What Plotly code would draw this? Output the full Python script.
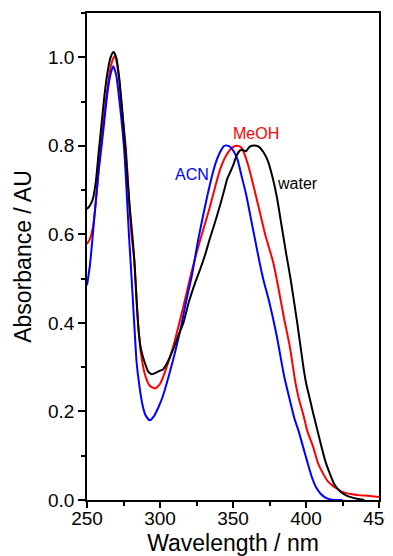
import plotly.graph_objects as go

# ---------------- data ----------------
wl_acn = [250, 252, 254, 256, 258, 260, 262, 264, 266, 268, 270, 272.6, 275.5, 278.8,
          280.6, 282.5, 284, 286, 288, 290, 293, 296, 299, 302, 306, 310, 314, 318,
          322, 326, 330, 334, 338, 341, 344, 347, 350, 353, 356, 359, 362, 365, 368,
          371, 375, 380, 385, 389, 392, 395, 398, 401, 404, 407, 410, 413, 416, 420, 425]
abs_acn = [0.485, 0.53, 0.60, 0.675, 0.745, 0.80, 0.86, 0.92, 0.96, 0.98, 0.96, 0.89, 0.79,
           0.595, 0.498, 0.39, 0.31, 0.255, 0.215, 0.192, 0.18, 0.19, 0.21, 0.235, 0.28,
           0.33, 0.385, 0.45, 0.51, 0.585, 0.65, 0.71, 0.76, 0.785, 0.80, 0.80, 0.79,
           0.77, 0.73, 0.69, 0.64, 0.59, 0.54, 0.495, 0.445, 0.37, 0.28, 0.225, 0.185,
           0.155, 0.12, 0.085, 0.052, 0.028, 0.014, 0.006, 0.002, 0.0, 0.0]

wl_meoh = [250, 252, 254, 256, 258, 260, 262, 264, 266, 268, 269, 270, 272, 274, 276.7,
           279, 280.5, 282.4, 284.5, 287, 290, 293, 296.5, 300, 304, 309, 314, 318, 322,
           326, 330, 334, 338, 341, 344, 347, 350, 353, 356, 358, 360.5, 364, 368.5, 372,
           377.6, 380, 385, 389, 392.5, 395, 398, 401, 405, 408, 411.8, 415, 418, 421,
           425, 428, 432, 436, 440, 444, 447, 450]
abs_meoh = [0.578, 0.59, 0.615, 0.67, 0.745, 0.815, 0.875, 0.93, 0.975, 0.998, 1.003, 0.995,
            0.95, 0.88, 0.79, 0.67, 0.60, 0.54, 0.42, 0.33, 0.28, 0.258, 0.252, 0.262,
            0.295, 0.346, 0.41, 0.465, 0.52, 0.57, 0.615, 0.66, 0.71, 0.745, 0.77, 0.787,
            0.797, 0.80, 0.795, 0.78, 0.755, 0.71, 0.649, 0.60, 0.536, 0.498, 0.41, 0.345,
            0.27, 0.23, 0.195, 0.155, 0.119, 0.085, 0.059, 0.042, 0.033, 0.026, 0.018,
            0.015, 0.013, 0.011, 0.010, 0.009, 0.008, 0.007]

wl_water = [250, 252, 254, 256, 258, 260, 262, 264, 266, 268, 270, 272, 274, 276.3, 279,
            281, 282.4, 285.3, 287, 289.7, 292, 294.3, 297, 300, 302, 305, 309, 313, 316,
            320, 324, 327.4, 331, 334, 337, 341, 344, 346, 348, 350, 352.5, 355, 357, 359,
            361, 363, 366, 368, 371, 374, 377, 380, 383.5, 386.5, 389.5, 394, 398, 400,
            402.5, 405, 408, 410.7, 413.5, 416.4, 419, 422, 426, 430, 435, 440]
abs_water = [0.657, 0.665, 0.68, 0.718, 0.785, 0.85, 0.915, 0.965, 0.998, 1.012, 1.0, 0.955,
             0.885, 0.793, 0.67, 0.60, 0.543, 0.384, 0.34, 0.309, 0.29, 0.284, 0.287,
             0.292, 0.295, 0.31, 0.34, 0.375, 0.40, 0.45, 0.49, 0.52, 0.555, 0.589, 0.62,
             0.664, 0.70, 0.725, 0.74, 0.755, 0.778, 0.79, 0.79, 0.788, 0.797, 0.80, 0.80,
             0.797, 0.785, 0.765, 0.73, 0.685, 0.615, 0.555, 0.498, 0.40, 0.305, 0.265,
             0.23, 0.195, 0.155, 0.119, 0.085, 0.059, 0.038, 0.024, 0.013, 0.007, 0.003, 0.0]

series_names = ["MeOH", "ACN", "water"]
series_colors = ["#ff0000", "#0000ff", "#000000"]

label_text = ["MeOH", "ACN", "water"]
label_x = [366.0, 322.2, 394.3]
label_y = [0.827, 0.735, 0.716]

x_range = [250, 450]
y_range = [0, 1.1]

FONT = "Liberation Sans, Arial, sans-serif"

fig = go.Figure()
data = [(wl_meoh, abs_meoh), (wl_acn, abs_acn), (wl_water, abs_water)]
for (xs, ys), name, col in zip(data, series_names, series_colors):
    fig.add_trace(go.Scatter(x=xs, y=ys, mode="lines", name=name,
                             line=dict(color=col, width=2, shape="spline", smoothing=0.6),
                             showlegend=False, hoverinfo="skip"))

for t, x, y, c in zip(label_text, label_x, label_y, series_colors):
    fig.add_annotation(x=x, y=y, xref="x", yref="y", text=t, showarrow=False,
                       font=dict(family=FONT, size=16, color=c),
                       xanchor="center", yanchor="middle")

axis_common = dict(showline=True, linecolor="black", linewidth=1.5, mirror=True,
                   showgrid=False, zeroline=False, ticks="outside", tickcolor="black",
                   tickwidth=1.5, tickfont=dict(family=FONT, size=19, color="black"),
                   automargin=False, ticklabeloverflow="allow")

fig.update_xaxes(range=x_range, tick0=250, dtick=50, ticklen=6, ticklabelstandoff=-6,
                 minor=dict(dtick=25, ticklen=4, ticks="outside", tickwidth=1.5,
                            tickcolor="black", showgrid=False),
                 title=dict(text="Wavelength / nm", font=dict(family=FONT, size=23, color="black"),
                            standoff=8),
                 **axis_common)
fig.update_yaxes(range=y_range, tick0=0, dtick=0.2, tickformat=".1f", ticklen=7,
                 minor=dict(dtick=0.1, ticklen=4, ticks="outside", tickwidth=1.5,
                            tickcolor="black", showgrid=False),
                 title=dict(text="Absorbance / AU", font=dict(family=FONT, size=23, color="black"),
                            standoff=10),
                 **axis_common)

# The page body keeps its default 8 px margin, so the figure is 8 px smaller
# than the window on each axis and margins are measured from that offset.
fig.update_layout(width=385, height=548, template="none",
                  margin=dict(l=79, r=14, t=5, b=56, pad=0),
                  paper_bgcolor="white", plot_bgcolor="white",
                  font=dict(family=FONT, color="black"), showlegend=False)

fig.write_html("out.html")
